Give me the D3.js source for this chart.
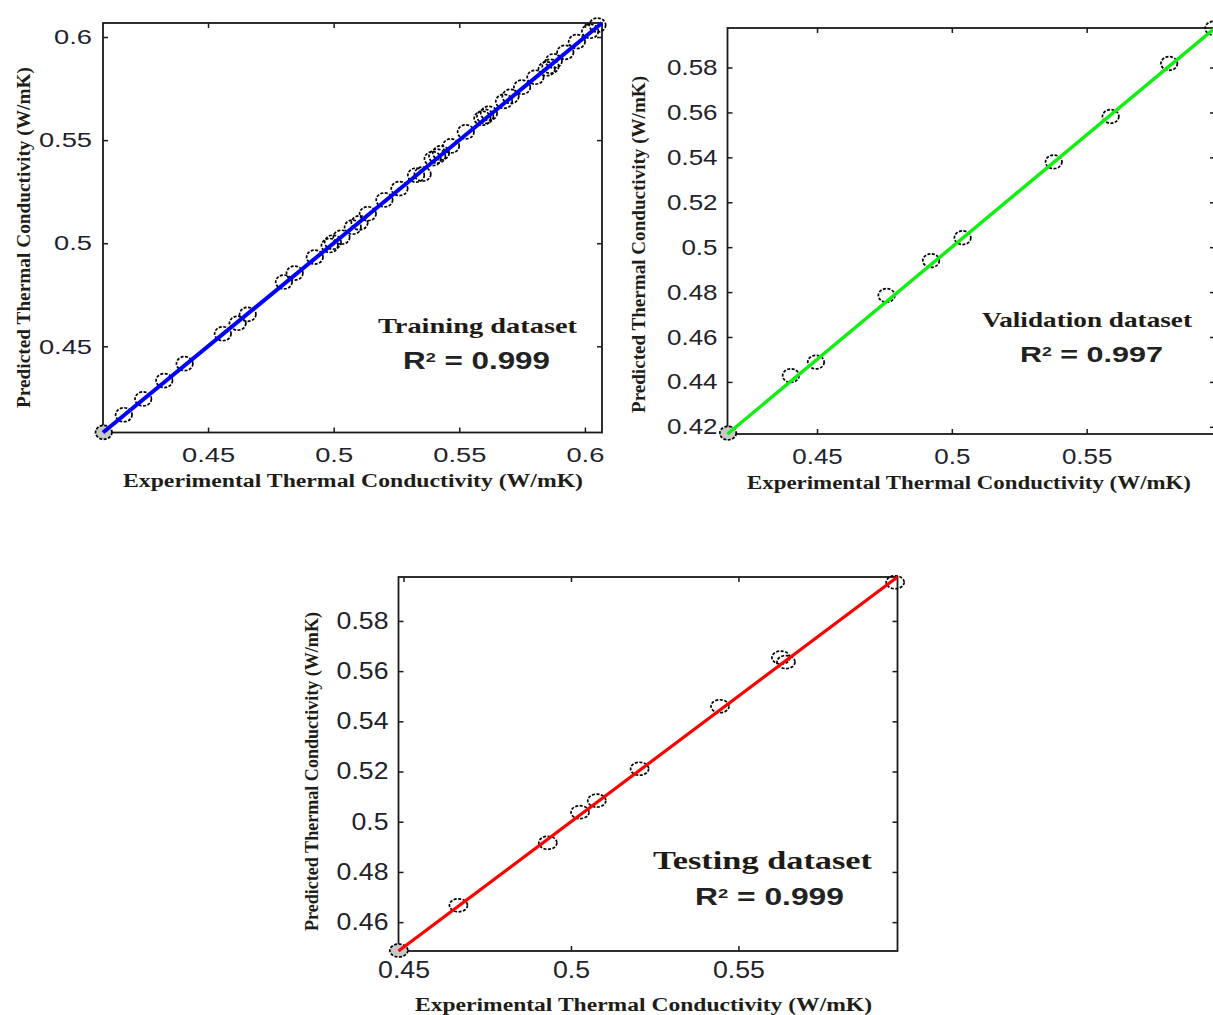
<!DOCTYPE html>
<html>
<head>
<meta charset="utf-8">
<script src="https://cdn.jsdelivr.net/npm/d3@7"></script>
<style>
  body { margin: 0; background: #fff; }
  svg { display: block; }
</style>
</head>
<body>
<svg id="chart" width="1213" height="1015"></svg>
<script>
// experimental vs predicted thermal conductivity (W/mK)
var trainExp  = [0.4085, 0.4165, 0.4242, 0.4326, 0.4407, 0.4559, 0.4618, 0.4658, 0.4802, 0.4845,
                 0.4925, 0.4984, 0.4997, 0.5031, 0.5076, 0.5103, 0.5136, 0.5202, 0.5262, 0.5328,
                 0.5354, 0.5394, 0.5412, 0.5427, 0.5467, 0.5526, 0.5592, 0.5603, 0.5618, 0.5678,
                 0.5704, 0.5750, 0.5803, 0.5848, 0.5863, 0.5876, 0.5922, 0.5968, 0.6021, 0.6050];
var trainPred = [0.4083, 0.4168, 0.4245, 0.4334, 0.4416, 0.4561, 0.4612, 0.4655, 0.4812, 0.4855,
                 0.4933, 0.4989, 0.5005, 0.5029, 0.5078, 0.5099, 0.5143, 0.5210, 0.5265, 0.5330,
                 0.5335, 0.5410, 0.5422, 0.5438, 0.5472, 0.5540, 0.5606, 0.5615, 0.5630, 0.5688,
                 0.5712, 0.5757, 0.5805, 0.5846, 0.5858, 0.5884, 0.5926, 0.5978, 0.6028, 0.6058];

var validExp  = [0.4170, 0.4403, 0.4496, 0.4758, 0.4923, 0.5040, 0.5378, 0.5589, 0.5806, 0.5970];
var validPred = [0.4172, 0.4428, 0.4488, 0.4785, 0.4940, 0.5042, 0.5380, 0.5582, 0.5818, 0.5975];

var testExp   = [0.4486, 0.4664, 0.4931, 0.5027, 0.5077, 0.5205, 0.5445, 0.5627, 0.5642, 0.5968];
var testPred  = [0.4487, 0.4667, 0.4916, 0.5038, 0.5084, 0.5211, 0.5460, 0.5654, 0.5636, 0.5954];

// axis ticks and limits
var trainTicks  = [0.45, 0.5, 0.55, 0.6];
var validXTicks = [0.45, 0.5, 0.55];
var validYTicks = [0.42, 0.44, 0.46, 0.48, 0.5, 0.52, 0.54, 0.56, 0.58];
var testXTicks  = [0.45, 0.5, 0.55];
var testYTicks  = [0.46, 0.48, 0.5, 0.52, 0.54, 0.56, 0.58];

var trainRange = [0.4082, 0.6068];
var validRange = [0.4168, 0.5976];
var testRange  = [0.4485, 0.5975];

var xTitle = "Experimental Thermal Conductivity (W/mK)";
var yTitle = "Predicted Thermal Conductivity (W/mK)";
var setNames = ["Training dataset", "Validation dataset", "Testing dataset"];
var r2Values = ["0.999", "0.997", "0.999"];

var SERIF = "'Liberation Serif', 'Times New Roman', serif";
var SANS = "'Liberation Sans', Arial, sans-serif";

var panels = [
    {exp: trainExp, pred: trainPred, xTicks: trainTicks, yTicks: trainTicks, range: trainRange,
     name: setNames[0], r2: r2Values[0], color: "#0000ff", lineW: 4,
     box: {l: 103, t: 23, r: 602, b: 432.5}, fs: 21, sx: 1.3, xBase: 29.5, yGap: 11,
     rx: 8.2, ry: 7,
     xt: {x1: 123, x2: 583, y: 487}, yt: {x: 30, y1: 408, y2: 67},
     ann: {x1: 378, x2: 577, y: 333, fs: 21}, r2a: {x1: 403, x2: 550, y: 369, fs: 23}},
    {exp: validExp, pred: validPred, xTicks: validXTicks, yTicks: validYTicks, range: validRange,
     name: setNames[1], r2: r2Values[1], color: "#11ee11", lineW: 3.4,
     box: {l: 727.5, t: 28, r: 1215, b: 434}, fs: 22, sx: 1.18, xBase: 30, yGap: 10,
     rx: 8.2, ry: 6.8,
     xt: {x1: 747, x2: 1191, y: 489}, yt: {x: 645, y1: 413, y2: 76},
     ann: {x1: 982, x2: 1192, y: 327, fs: 21}, r2a: {x1: 1020, x2: 1163, y: 362, fs: 22}},
    {exp: testExp, pred: testPred, xTicks: testXTicks, yTicks: testYTicks, range: testRange,
     name: setNames[2], r2: r2Values[2], color: "#ff0000", lineW: 3.2,
     box: {l: 398.5, t: 577, r: 897.5, b: 951}, fs: 23, sx: 1.16, xBase: 27, yGap: 10,
     rx: 9, ry: 6.5,
     xt: {x1: 415, x2: 872, y: 1011}, yt: {x: 318, y1: 931, y2: 612},
     ann: {x1: 653, x2: 872, y: 869, fs: 25}, r2a: {x1: 695, x2: 844, y: 905, fs: 23}}
];

var svg = d3.select("#chart");
var fmt = function(d) { return String(+d.toFixed(2)); };

function styleAxis(ax, p) {
    ax.select(".domain").remove();
    ax.attr("font-size", null).attr("font-family", null);
    ax.selectAll(".tick line").attr("stroke", "#1a1a1a").attr("stroke-width", 1.5);
    ax.selectAll(".tick text")
        .style("font-family", SANS)
        .style("font-size", p.fs + "px")
        .attr("fill", "#22222c")
        .attr("transform", "scale(" + p.sx + ",1)");
}

panels.forEach(function(p) {
    var x = d3.scaleLinear().domain(p.range).range([p.box.l, p.box.r]);
    var y = d3.scaleLinear().domain(p.range).range([p.box.b, p.box.t]);
    var g = svg.append("g");

    // ticks on all four sides, pointing inward
    var bottom = g.append("g")
        .attr("transform", "translate(0," + p.box.b + ")")
        .call(d3.axisBottom(x).tickValues(p.xTicks).tickSize(-5)
            .tickPadding(p.xBase - 0.71 * p.fs).tickFormat(fmt));
    styleAxis(bottom, p);

    var left = g.append("g")
        .attr("transform", "translate(" + p.box.l + ",0)")
        .call(d3.axisLeft(y).tickValues(p.yTicks).tickSize(-5)
            .tickPadding(p.yGap / p.sx).tickFormat(fmt));
    styleAxis(left, p);

    var top = g.append("g")
        .attr("transform", "translate(0," + p.box.t + ")")
        .call(d3.axisTop(x).tickValues(p.xTicks).tickSize(-5).tickFormat(""));
    styleAxis(top, p);

    var right = g.append("g")
        .attr("transform", "translate(" + p.box.r + ",0)")
        .call(d3.axisRight(y).tickValues(p.yTicks).tickSize(-5).tickFormat(""));
    styleAxis(right, p);

    g.append("rect")
        .attr("x", p.box.l).attr("y", p.box.t)
        .attr("width", p.box.r - p.box.l).attr("height", p.box.b - p.box.t)
        .attr("fill", "none").attr("stroke", "#1a1a1a").attr("stroke-width", 1.8);

    // markers
    var pts = p.exp.map(function(v, i) { return {e: v, p: p.pred[i]}; });
    g.selectAll("ellipse.pt")
        .data(pts)
        .enter()
        .append("ellipse")
            .attr("class", "pt")
            .attr("cx", function(d) { return x(d.e); })
            .attr("cy", function(d) { return y(d.p); })
            .attr("rx", p.rx)
            .attr("ry", p.ry)
            .attr("fill", function(d, i) { return i === 0 ? "#c8c8c8" : "none"; })
            .attr("stroke", "#000")
            .attr("stroke-width", 1.7)
            .attr("stroke-dasharray", "3,1.5");

    // fitted line y = x over the axis range
    var line = d3.line().x(function(d) { return x(d); }).y(function(d) { return y(d); });
    g.append("path")
        .datum(p.range)
        .attr("d", line)
        .attr("fill", "none")
        .attr("stroke", p.color)
        .attr("stroke-width", p.lineW);

    // axis titles
    g.append("text")
        .attr("x", p.xt.x1).attr("y", p.xt.y)
        .attr("textLength", p.xt.x2 - p.xt.x1)
        .attr("lengthAdjust", "spacingAndGlyphs")
        .style("font-family", SERIF).style("font-size", "18px").style("font-weight", "bold")
        .attr("fill", "#201c18")
        .text(xTitle);

    g.append("text")
        .attr("transform", "translate(" + p.yt.x + "," + p.yt.y1 + ") rotate(-90)")
        .attr("textLength", p.yt.y1 - p.yt.y2)
        .attr("lengthAdjust", "spacingAndGlyphs")
        .style("font-family", SERIF).style("font-size", "18px").style("font-weight", "bold")
        .attr("fill", "#201c18")
        .text(yTitle);

    // dataset annotation
    g.append("text")
        .attr("x", p.ann.x1).attr("y", p.ann.y)
        .attr("textLength", p.ann.x2 - p.ann.x1)
        .attr("lengthAdjust", "spacingAndGlyphs")
        .style("font-family", SERIF).style("font-size", p.ann.fs + "px").style("font-weight", "bold")
        .attr("fill", "#1e1a14")
        .text(p.name);

    var r2 = g.append("text")
        .attr("x", p.r2a.x1).attr("y", p.r2a.y)
        .attr("textLength", p.r2a.x2 - p.r2a.x1)
        .attr("lengthAdjust", "spacingAndGlyphs")
        .style("font-family", SANS).style("font-size", p.r2a.fs + "px").style("font-weight", "bold")
        .attr("fill", "#222");
    r2.append("tspan").text("R");
    r2.append("tspan").attr("dy", "-0.5em").style("font-size", "58%").text("2");
    r2.append("tspan").attr("dy", "0.29em").text(" = " + p.r2);
});
</script>
</body>
</html>
